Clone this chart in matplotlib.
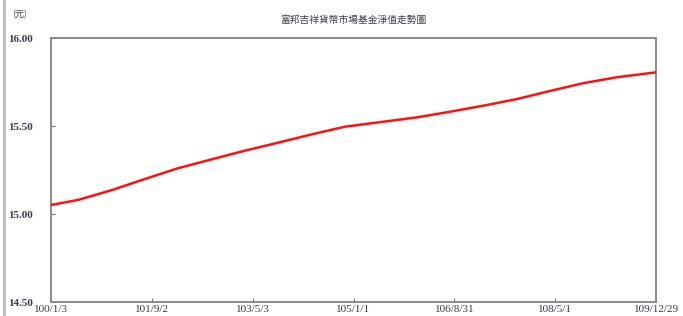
import matplotlib

matplotlib.use("Agg")
import matplotlib.pyplot as plt
import matplotlib.dates as mdates
from matplotlib.lines import Line2D

# NAV trend
nav_dates = [
    "2011-01-03", "2011-06-15", "2012-01-06", "2012-07-23", "2013-02-07",
    "2013-08-31", "2014-03-18", "2014-10-03", "2015-04-26", "2015-11-11",
    "2016-06-27", "2017-01-18", "2017-08-05", "2018-02-20", "2018-09-13",
    "2019-03-31", "2019-10-16", "2020-05-08", "2020-12-29",
]
nav_values = [
    15.051, 15.080, 15.136, 15.199, 15.260,
    15.311, 15.360, 15.405, 15.453, 15.496,
    15.524, 15.549, 15.581, 15.615, 15.653,
    15.699, 15.743, 15.777, 15.805,
]
tick_dates = ["2011-01-03", "2012-09-02", "2014-05-03", "2016-01-01",
              "2017-08-31", "2019-05-01", "2020-12-29"]
tick_labels = ["100/1/3", "101/9/2", "103/5/3", "105/1/1",
               "106/8/31", "108/5/1", "109/12/29"]
y_ticks = [14.5, 15.0, 15.5, 16.0]
title = "富邦吉祥貨幣市場基金淨值走勢圖"
unit_label = "(元)"

text_color = "#3a3a4a"
serif = ["Liberation Serif", "DejaVu Serif"]
cjk = ["Noto Sans CJK TC", "DejaVu Sans"]

fig = plt.figure(figsize=(6.83, 3.16), dpi=100)
ax = fig.add_axes([51 / 683, 14 / 316, 605 / 683, 264 / 316])

xs = mdates.datestr2num(nav_dates)
ax.plot(xs, nav_values, color="#ff1010", linewidth=1.8, solid_capstyle="round", zorder=3)

ax.set_xlim(mdates.datestr2num(tick_dates[0]), mdates.datestr2num(tick_dates[-1]))
ax.set_ylim(14.5, 16.0)
ax.set_xticks(mdates.datestr2num(tick_dates))
ax.set_xticklabels(tick_labels, family=serif, fontsize=8, color=text_color)
ax.set_yticks(y_ticks)
ax.set_yticklabels([f"{v:.2f}" for v in y_ticks], family=serif, fontsize=8,
                   color=text_color, fontweight="bold", ha="left")
ax.tick_params(axis="y", direction="in", length=3, color="#777777", pad=31)
ax.tick_params(axis="x", direction="in", length=3, color="#777777", pad=2)
for side in ("left", "right", "top", "bottom"):
    ax.spines[side].set_color("#8a8a8a")
    ax.spines[side].set_linewidth(1.4)

fig.text(353 / 683, 1 - 20 / 316, title, family=cjk, fontsize=7,
         color=text_color, ha="center", va="center")
fig.text(12 / 683, 1 - 15 / 316, unit_label, family=cjk, fontsize=6.5,
         color=text_color, ha="left", va="center")

# grey page border on the left
fig.add_artist(Line2D([3.5 / 683, 3.5 / 683], [0, 1], color="#bdbdbd", linewidth=2.2))

fig.savefig("out.png", dpi=100)
plt.close(fig)
